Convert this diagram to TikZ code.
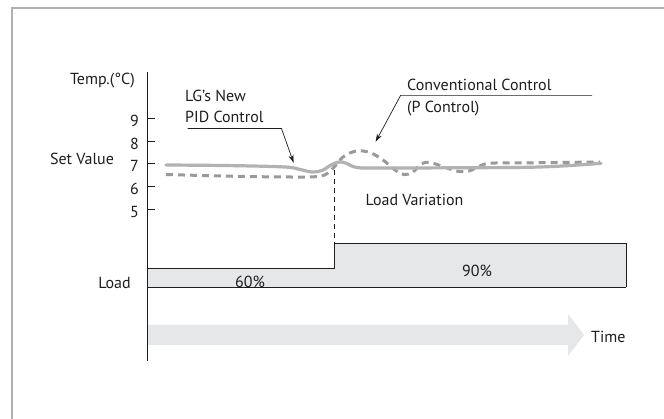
\documentclass[tikz,border=0pt]{standalone}
\usepackage{fontspec}
\setmainfont{PT Sans}
\usetikzlibrary{arrows.meta}
\definecolor{framegray}{HTML}{B0B0B4}
\definecolor{txt}{HTML}{1E1E1E}
\definecolor{pidline}{HTML}{B2B2B2}
\definecolor{pline}{HTML}{9A9A9A}
\definecolor{loadfill}{HTML}{E6E7E8}
\tikzset{
  lbl/.style={inner sep=0pt, text=txt, font=\fontsize{16}{18}\selectfont},
  axisline/.style={draw=txt, line width=0.8pt},
  leader/.style={draw=txt, line width=0.7pt},
  leadarrow/.style={leader, -{Stealth[length=8pt,width=5pt]}},
  pidcurve/.style={draw=pidline, line width=3.2pt, line cap=round},
  pcurve/.style={draw=pline, line width=3pt, dash pattern=on 7pt off 5pt},
  loadbox/.style={fill=loadfill, draw=none},
  loadedge/.style={draw=txt, line width=0.8pt},
  timearrow/.style={fill=loadfill, draw=none},
  varline/.style={draw=txt, line width=0.6pt, dash pattern=on 5pt off 4pt}
}
\begin{document}
\begin{tikzpicture}[x=1pt,y=-1pt]
\useasboundingbox (0,0) rectangle (664,419);
\fill[white] (0,0) rectangle (664,419);
% frame
\draw[framegray, line width=2pt] (12,430) -- (12,8) -- (680,8);

% time arrow
\path[timearrow] (147,325) -- (568,325) -- (568,314) -- (584,335) -- (568,356) -- (568,345) -- (147,345) -- cycle;

% load boxes
\path[loadbox] (147,268) rectangle (334.6,287);
\path[loadbox] (334.6,243.7) rectangle (626,287);
\draw[loadedge] (147,268) -- (334.6,268) -- (334.6,243.7) -- (626,243.7) -- (626,287.3);
\draw[loadedge] (147,287.3) -- (626.4,287.3);

% axis
\coordinate (axtop) at (147,72);
\coordinate (axbot) at (147,361);
\draw[axisline] (axtop) -- (axbot);
\foreach \v/\y in {9/118.3,8/141.7,7/163.8,6/186.7,5/209} {
  \draw[axisline] (147,\y) -- (154.5,\y);
  \node[lbl, anchor=east] (t\v) at (139,\y+2.5) {\v};
}

% load variation line
\coordinate (varTop) at (334.6,170);
\coordinate (varBot) at (334.6,243.7);
\draw[varline] (varTop) -- (varBot);

% curves
\draw[pcurve] plot[smooth, tension=0.6] coordinates {
 (166,174.5) (230,176.2) (290,177) (318,176.5) (328,173) (335,166) (343,157)
 (351,152.5) (360,150.8) (371,153) (383,160) (395,170) (404,174.6) (413,172)
 (421,164) (430,162.5) (444,167) (458,171.3) (469,171) (480,166) (491,163.2)
 (530,162.8) (600,162)};
\draw[pidcurve] plot[smooth, tension=0.6] coordinates {
 (166,165) (230,165.6) (285,167) (300,169.5) (312,172) (322,170.5) (331,165)
 (339,162) (346,163.2) (357,167.5) (380,168) (450,167.8) (540,167) (601,163.3)};

% labels
\node[lbl, anchor=east] (temp) at (135,80.5) {Temp.(°C)};
\node[lbl] (setv) at (82,158.5) {Set Value};
\node[lbl, anchor=west] (lg1) at (185,96) {LG’s New};
\node[lbl, anchor=west] (lg2) at (185,117) {PID Control};
\node[lbl, anchor=west] (cc1) at (407,84.5) {Conventional Control};
\node[lbl, anchor=west] (cc2) at (407,109) {(P Control)};
\node[lbl, anchor=west] (lv) at (365.5,199.5) {Load Variation};
\node[lbl] (p60) at (250,281.5) {60\%};
\node[lbl] (p90) at (477,271) {90\%};
\node[lbl] (load) at (114.5,282.5) {Load};
\node[lbl, anchor=west] (time) at (591,336.5) {Time};

% leaders
\coordinate (pidA) at (187.6,128.6);
\coordinate (pidB) at (281.5,128.6);
\coordinate (pidTip) at (293.6,162.8);
\draw[leadarrow] (pidA) -- (pidB) -- (pidTip);
\coordinate (convR) at (592,95.4);
\coordinate (convL) at (400.6,95.4);
\coordinate (convTip) at (375.6,141.8);
\draw[leadarrow] (convR) -- (convL) -- (convTip);
\end{tikzpicture}
\end{document}
